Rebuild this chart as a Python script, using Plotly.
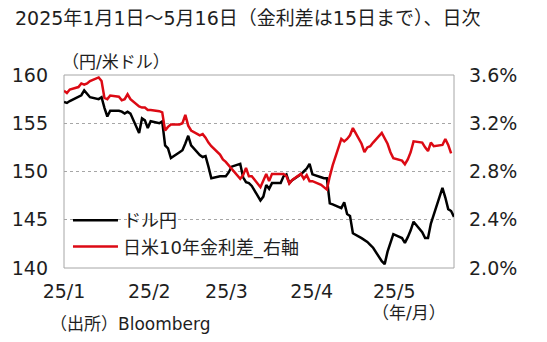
import pandas as pd
import plotly.graph_objects as go

# Daily series, 2025-01-01 .. 2025-05-16 (weekdays)
dates = pd.bdate_range("2025-01-01", "2025-05-16").strftime("%Y-%m-%d").tolist()

usdjpy = [
    157.2, 157.1, 157.3, 157.8, 157.9, 158.4, 158.0, 157.7, 157.5, 157.7,
    156.6, 155.7, 156.3, 156.3, 156.2, 156.0, 156.2, 156.0, 154.0, 155.5,
    155.3, 154.5, 155.2,
    155.0, 155.2, 152.7, 152.4, 151.4, 152.0, 152.2, 152.9, 153.7, 152.7,
    151.7, 151.5, 151.6, 150.5, 149.3, 149.5, 149.5, 149.5, 149.9, 150.5,
    150.8, 149.4, 148.9, 148.8, 148.5, 147.0, 147.4, 148.6, 148.2, 148.8,
    148.8, 149.5, 149.7, 148.8, 149.1, 149.7, 150.0, 150.3, 150.8, 149.7,
    149.4,
    149.3, 149.3, 146.7, 146.6, 146.2, 146.8, 145.6, 145.4, 143.6, 143.1,
    142.9, 142.7, 142.4, 142.1, 140.7, 140.4, 141.7, 142.6, 143.5, 143.1,
    142.6, 143.2,
    143.9, 144.8, 143.7, 143.1, 143.1, 144.6, 145.5, 148.3, 147.3, 146.1,
    145.9, 145.3,
]

# US-Japan 10y yield spread (%), through 2025-05-15
spread = [
    3.47, 3.45, 3.48, 3.50, 3.53, 3.52, 3.53, 3.55, 3.58, 3.55,
    3.41, 3.40, 3.43, 3.42, 3.39, 3.40, 3.44, 3.40, 3.34, 3.33,
    3.33, 3.31, 3.31,
    3.30, 3.29, 3.14, 3.17, 3.19, 3.19, 3.20, 3.27, 3.18, 3.14,
    3.10, 3.11, 3.08, 3.04, 3.01, 2.94, 2.90, 2.88, 2.85, 2.82,
    2.74, 2.77, 2.83, 2.76, 2.76, 2.67, 2.72, 2.78, 2.72, 2.78,
    2.78, 2.78, 2.76, 2.70, 2.73, 2.78, 2.74, 2.77, 2.72, 2.72,
    2.69,
    2.67, 2.65, 2.76, 2.85, 3.07, 3.05, 3.07, 3.10, 3.16, 3.03,
    2.96, 3.00, 3.01, 3.04, 3.12, 3.07, 3.03, 2.96, 2.91, 2.89,
    2.86, 2.90,
    2.96, 3.05, 3.04, 3.00, 2.97, 3.04, 3.01, 3.02, 3.07, 3.02,
    2.95,
]

month_ticks = ["2025-01-01", "2025-02-01", "2025-03-01", "2025-04-01", "2025-05-01"]
month_labels = ["25/1", "25/2", "25/3", "25/4", "25/5"]
left_ticks = [140, 145, 150, 155, 160]
right_ticks = [2.0, 2.4, 2.8, 3.2, 3.6]
right_labels = [f"{v:.1f}%" for v in right_ticks]

W, H = 547, 342
ML, MR, MT, MB = 62, 93, 75, 74
FONT = "DejaVu Sans, Noto Sans CJK JP"
TXT = "#1e1e1e"
GRID = "#a6a6a6"


def px(x):
    return (x - ML) / (W - ML - MR)


def py(y):
    return 1 - (y - MT) / (H - MT - MB)


fig = go.Figure()
fig.add_trace(go.Scatter(
    x=dates, y=usdjpy, name="ドル円", mode="lines",
    line=dict(color="#000000", width=2.5), yaxis="y",
))
fig.add_trace(go.Scatter(
    x=dates[:len(spread)], y=spread, name="日米10年金利差_右軸", mode="lines",
    line=dict(color="#dc0a14", width=2.5), yaxis="y2",
))
# carrier for the month-label axis
fig.add_trace(go.Scatter(x=[], y=[], xaxis="x2", yaxis="y", showlegend=False,
                         hoverinfo="skip"))

fig.update_layout(
    width=W, height=H,
    margin=dict(l=ML, r=MR, t=MT, b=MB),
    paper_bgcolor="white", plot_bgcolor="white",
    font=dict(family=FONT, size=18, color=TXT),
    showlegend=True,
    legend=dict(
        x=px(66), y=py(202), xanchor="left", yanchor="top",
        bgcolor="rgba(0,0,0,0)", borderwidth=0,
        font=dict(size=18, color=TXT), itemwidth=45,
        tracegroupgap=0,
    ),
    xaxis=dict(
        type="date", range=["2025-01-01", "2025-05-16"],
        showticklabels=False, showgrid=False, zeroline=False, ticks="",
    ),
    xaxis2=dict(
        type="date", overlaying="x", anchor="y", side="bottom",
        range=["2025-01-01", "2025-05-22 17:00"],
        tickmode="array", tickvals=month_ticks, ticktext=month_labels,
        showgrid=False, zeroline=False, ticks="",
        tickfont=dict(size=19, color=TXT), ticklabelstandoff=10,
    ),
    yaxis=dict(
        range=[140, 160], tickmode="array", tickvals=left_ticks,
        showgrid=True, gridcolor=GRID, griddash="dot", gridwidth=1,
        zeroline=False, ticks="", tickfont=dict(size=19, color=TXT),
        ticklabelstandoff=15,
    ),
    yaxis2=dict(
        range=[2.0, 3.6], overlaying="y", side="right",
        tickmode="array", tickvals=right_ticks, ticktext=right_labels,
        showgrid=False, zeroline=False, ticks="",
        tickfont=dict(size=19, color=TXT), ticklabelstandoff=14,
    ),
    shapes=[dict(
        type="rect", xref="paper", yref="paper", x0=0, x1=1, y0=0, y1=1,
        line=dict(color=GRID, width=1), fillcolor="rgba(0,0,0,0)", layer="below",
    )],
    annotations=[
        dict(text="2025年1月1日～5月16日（金利差は15日まで）、日次",
             xref="paper", yref="paper", x=px(11), y=py(18),
             xanchor="left", yanchor="middle", showarrow=False,
             font=dict(size=19, color=TXT)),
        dict(text="（円/米ドル）", xref="paper", yref="paper", x=px(58), y=py(62),
             xanchor="left", yanchor="middle", showarrow=False,
             font=dict(size=17, color=TXT)),
        dict(text="（年/月）", xref="paper", yref="paper", x=px(370), y=py(313),
             xanchor="left", yanchor="middle", showarrow=False,
             font=dict(size=17, color=TXT)),
        dict(text="（出所）Bloomberg", xref="paper", yref="paper", x=px(46), y=py(324),
             xanchor="left", yanchor="middle", showarrow=False,
             font=dict(size=17, color=TXT)),
    ],
)

fig.write_html("out.html")
